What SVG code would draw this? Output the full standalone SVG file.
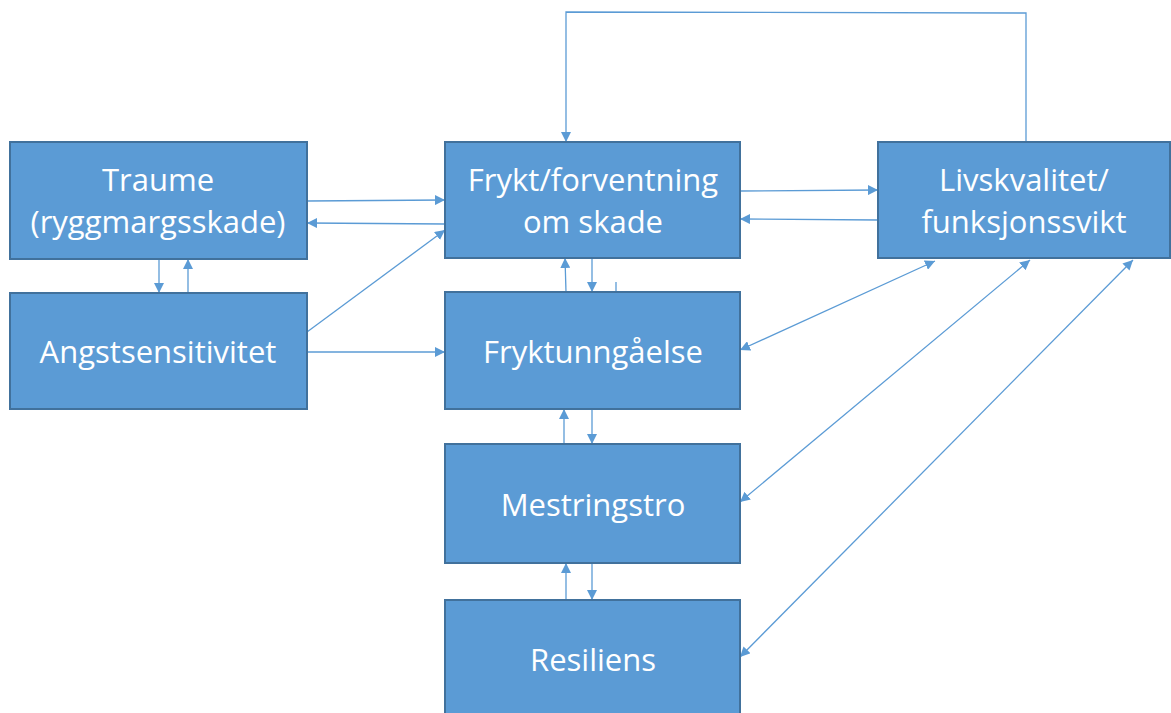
<svg xmlns="http://www.w3.org/2000/svg" width="1171" height="713" viewBox="0 0 1171 713">
<style>
.box{fill:#5B9BD5;stroke:#41719C;stroke-width:2}
.t{fill:#fff;font-family:"Open Sans","Liberation Sans",sans-serif;font-size:31px;text-anchor:middle}
.c{fill:none;stroke:#5B9BD5;stroke-width:1.3}
</style>
<defs>
<marker id="ah" viewBox="0 0 10 10" refX="10" refY="5" markerWidth="10" markerHeight="10" markerUnits="userSpaceOnUse" orient="auto-start-reverse">
<path d="M0,0 L10,5 L0,10 z" fill="#5B9BD5"/>
</marker>
</defs>
<rect width="1171" height="713" fill="#fff"/>
<g id="connectors">
<line class="c" x1="307" y1="201" x2="445" y2="200" marker-end="url(#ah)"/>
<line class="c" x1="445" y1="224" x2="307" y2="223" marker-end="url(#ah)"/>
<line class="c" x1="159" y1="259" x2="159" y2="293" marker-end="url(#ah)"/>
<line class="c" x1="188" y1="293" x2="188" y2="259" marker-end="url(#ah)"/>
<line class="c" x1="307" y1="332" x2="445" y2="230" marker-end="url(#ah)"/>
<line class="c" x1="307" y1="352" x2="445" y2="352" marker-end="url(#ah)"/>
<line class="c" x1="740" y1="191" x2="878" y2="190" marker-end="url(#ah)"/>
<line class="c" x1="878" y1="220" x2="740" y2="219" marker-end="url(#ah)"/>
<line class="c" x1="566" y1="292" x2="565" y2="258" marker-end="url(#ah)"/>
<line class="c" x1="592" y1="258" x2="592" y2="292" marker-end="url(#ah)"/>
<line class="c" x1="616" y1="282" x2="616" y2="292"/>
<line class="c" x1="564" y1="444" x2="564" y2="409" marker-end="url(#ah)"/>
<line class="c" x1="592" y1="409" x2="592" y2="444" marker-end="url(#ah)"/>
<line class="c" x1="566" y1="600" x2="566" y2="563" marker-end="url(#ah)"/>
<line class="c" x1="592" y1="563" x2="592" y2="600" marker-end="url(#ah)"/>
<polyline class="c" points="1026,142 1026,13 566,12 566,142" marker-end="url(#ah)"/>
<line class="c" x1="740" y1="350" x2="935" y2="261" marker-start="url(#ah)" marker-end="url(#ah)"/>
<line class="c" x1="740" y1="502" x2="1030" y2="260" marker-start="url(#ah)" marker-end="url(#ah)"/>
<line class="c" x1="740" y1="657" x2="1133" y2="260" marker-start="url(#ah)" marker-end="url(#ah)"/>
</g>
<g id="traume">
<rect class="box" x="10" y="142" width="297" height="117"/>
<text class="t" x="158" y="191">Traume</text>
<text class="t" x="158" y="233">(ryggmargsskade)</text>
</g>
<g id="angst">
<rect class="box" x="10" y="293" width="297" height="116"/>
<text class="t" x="158" y="363">Angstsensitivitet</text>
</g>
<g id="frykt">
<rect class="box" x="445" y="142" width="295" height="116"/>
<text class="t" x="593" y="191">Frykt/forventning</text>
<text class="t" x="593" y="233">om skade</text>
</g>
<g id="livskvalitet">
<rect class="box" x="878" y="142" width="292" height="116"/>
<text class="t" x="1024" y="191">Livskvalitet/</text>
<text class="t" x="1024" y="233">funksjonssvikt</text>
</g>
<g id="fryktunngaelse">
<rect class="box" x="445" y="292" width="295" height="117"/>
<text class="t" x="593" y="363">Fryktunngåelse</text>
</g>
<g id="mestringstro">
<rect class="box" x="445" y="444" width="295" height="119"/>
<text class="t" x="593" y="516">Mestringstro</text>
</g>
<g id="resiliens">
<rect class="box" x="445" y="600" width="295" height="120"/>
<text class="t" x="593" y="671">Resiliens</text>
</g>
</svg>
